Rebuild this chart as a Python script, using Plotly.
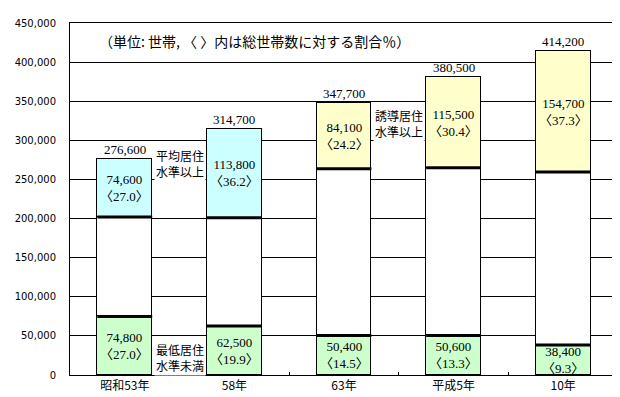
import plotly.graph_objects as go

categories = ["昭和53年", "58年", "63年", "平成5年", "10年"]
below_min = [74800, 62500, 50400, 50600, 38400]
below_min_pct = ["27.0", "19.9", "14.5", "13.3", "9.3"]
upper = [74600, 113800, 84100, 115500, 154700]
upper_pct = ["27.0", "36.2", "24.2", "30.4", "37.3"]
totals = [276600, 314700, 347700, 380500, 414200]
upper_kind = ["avg", "avg", "ind", "ind", "ind"]

middle = [t - b - u for t, b, u in zip(totals, below_min, upper)]
xs = list(range(len(categories)))
BW = 0.5
upper_colors = ["#CCFFFF" if k == "avg" else "#FFFFCC" for k in upper_kind]

JP = "Noto Sans CJK JP"
NUM = "Liberation Serif, Noto Sans CJK JP"

fig = go.Figure()
fig.add_bar(x=xs, y=below_min, width=BW, marker=dict(color="#CCFFCC", line=dict(color="black", width=1)))
fig.add_bar(x=xs, y=middle, width=BW, marker=dict(color="white", line=dict(color="black", width=1)))
fig.add_bar(x=xs, y=upper, width=BW, marker=dict(color=upper_colors, line=dict(color="black", width=1)))

# thick boundary lines between segments
lx, ly = [], []
for i in xs:
    for v in (below_min[i], below_min[i] + middle[i]):
        lx += [i - BW / 2, i + BW / 2, None]
        ly += [v, v, None]
fig.add_scatter(x=lx, y=ly, mode="lines", line=dict(color="black", width=3), hoverinfo="skip")

ann = []
for i in xs:
    ann.append(dict(x=i, y=totals[i], text=f"{totals[i]:,}", showarrow=False, yanchor="bottom",
                    font=dict(family=NUM, size=13, color="black")))
    ym = below_min[i] + middle[i] + upper[i] / 2
    ann.append(dict(x=i, y=ym, text=f"{upper[i]:,}<br>〈{upper_pct[i]}〉", showarrow=False,
                    font=dict(family=NUM, size=13, color="black")))
    ann.append(dict(x=i, y=below_min[i] / 2, text=f"{below_min[i]:,}<br>〈{below_min_pct[i]}〉", showarrow=False,
                    font=dict(family=NUM, size=13, color="black")))

ann.append(dict(x=0.5, y=271000, text="平均居住<br>水準以上", showarrow=False, bgcolor="white",
                font=dict(family=JP, size=12, color="black")))
ann.append(dict(x=2.5, y=322000, text="誘導居住<br>水準以上", showarrow=False, bgcolor="white",
                font=dict(family=JP, size=12, color="black")))
ann.append(dict(x=0.5, y=23000, text="最低居住<br>水準未満", showarrow=False, bgcolor="white",
                font=dict(family=JP, size=12, color="black")))
ann.append(dict(x=-0.25, y=427000, xanchor="left", text="（単位: 世帯, 〈 〉内は総世帯数に対する割合％）",
                showarrow=False, font=dict(family=JP, size=14, color="black")))

fig.update_layout(
    width=620, height=397,
    margin=dict(l=62, r=10, t=15, b=30),
    barmode="stack", bargap=0,
    showlegend=False,
    plot_bgcolor="white", paper_bgcolor="white",
    annotations=ann,
)
fig.update_yaxes(range=[0, 450000], dtick=50000, tickformat=",", showgrid=True, gridcolor="black", gridwidth=1,
                 showline=True, linecolor="black", mirror=True, zeroline=False, automargin=False,
                 tickfont=dict(family="DejaVu Sans", size=10, color="black"), ticks="", ticklabelstandoff=11)
fig.update_xaxes(range=[-0.5, len(categories) - 0.5], tickvals=xs, ticktext=categories, showgrid=False,
                 showline=True, linecolor="black", mirror=True, zeroline=False, ticks="", automargin=False,
                 tickfont=dict(family=JP, size=12, color="black"), ticklabelstandoff=0,
                 minor=dict(tickvals=[i + 0.5 for i in xs[:-1]], ticks="inside", ticklen=3, tickcolor="black"))

fig.write_html("out.html")
